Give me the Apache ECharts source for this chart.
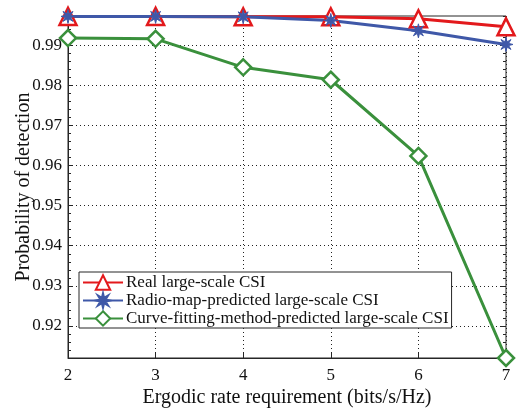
<!DOCTYPE html>
<html>
<head>
<meta charset="utf-8">
<script src="https://cdn.jsdelivr.net/npm/echarts@6/dist/echarts.min.js"></script>
<style>
  html, body { margin: 0; padding: 0; background: #fff; }
  #chart { width: 520px; height: 411px; }
</style>
</head>
<body>
<div id="chart"></div>
<script>
// rate requirement (bits/s/Hz)
const rates = [2, 3, 4, 5, 6, 7];
const realCSI = [0.9972, 0.9972, 0.9971, 0.9971, 0.9966, 0.9946];
const radioMapCSI = [0.9972, 0.9972, 0.9971, 0.9962, 0.9936, 0.9902];
const curveFitCSI = [0.9918, 0.9916, 0.9845, 0.9814, 0.9624, 0.9120];
const yMajorTicks = [0.92, 0.93, 0.94, 0.95, 0.96, 0.97, 0.98, 0.99];
const seriesNames = [
  'Real large-scale CSI',
  'Radio-map-predicted large-scale CSI',
  'Curve-fitting-method-predicted large-scale CSI'
];

const FONT = 'Liberation Serif';
const AXIS = '#262626';

// asterisk-ish star for the radio-map marker
function starPath() {
  const pts = [];
  for (let k = 0; k < 16; k++) {
    const a = k * Math.PI / 8;
    const r = k % 2 === 0 ? 10 : 4;
    pts.push((r * Math.cos(a)).toFixed(2) + ',' + (r * Math.sin(a)).toFixed(2));
  }
  return 'path://M' + pts.join('L') + 'Z';
}

const chart = echarts.init(document.getElementById('chart'));

const pairs = arr => rates.map((x, i) => [x, arr[i]]);

const yBase = { type: 'value', min: 0.912, max: 0.9973 };

const option = {
  animation: false,
  backgroundColor: '#fff',
  grid: {
    left: 68, right: 14, top: 16, bottom: 53,
    outerBoundsMode: 'none', containLabel: false,
    show: true, borderColor: AXIS, borderWidth: 1
  },
  legend: {
    orient: 'vertical',
    left: 79, top: 272,
    padding: [2, 3, 1, 3],
    itemGap: 1,
    itemWidth: 40, itemHeight: 18,
    backgroundColor: '#fff',
    borderColor: AXIS, borderWidth: 1,
    textStyle: { fontFamily: FONT, fontSize: 17, color: '#111', padding: [0, 0, 0, -2] },
    data: seriesNames
  },
  xAxis: [{
    type: 'value', min: 2, max: 7, interval: 1,
    name: 'Ergodic rate requirement (bits/s/Hz)',
    nameLocation: 'middle', nameGap: 30, nameMoveOverlap: false,
    nameTextStyle: { fontFamily: FONT, fontSize: 20, color: '#111' },
    axisLine: { show: true, lineStyle: { color: AXIS } },
    axisTick: { inside: true, length: 5, lineStyle: { color: AXIS } },
    axisLabel: { fontFamily: FONT, fontSize: 17, color: '#111', margin: 9 },
    splitLine: { show: true, lineStyle: { color: '#222', type: [1, 3], width: 1 } }
  }, {
    type: 'value', min: 2, max: 7, interval: 1, position: 'top',
    axisLine: { show: false },
    axisTick: { inside: true, length: 5, lineStyle: { color: AXIS } },
    axisLabel: { show: false }, splitLine: { show: false }
  }],
  yAxis: [Object.assign({}, yBase, {
    name: 'Probability of detection',
    nameLocation: 'middle', nameGap: 34, nameMoveOverlap: false,
    nameTextStyle: { fontFamily: FONT, fontSize: 20, color: '#111' },
    interval: 0.002,
    axisLine: { show: true, lineStyle: { color: AXIS } },
    axisTick: { inside: true, length: 5, customValues: yMajorTicks, lineStyle: { color: AXIS } },
    axisLabel: { fontFamily: FONT, fontSize: 17, color: '#111', margin: 6, customValues: yMajorTicks,
      formatter: v => v.toFixed(2) },
    splitLine: { show: true, lineStyle: { color: '#222', type: [1, 3], width: 1 } }
  }), Object.assign({}, yBase, {
    interval: 0.002, position: 'left',
    axisLine: { show: false },
    axisTick: { inside: true, length: 3, lineStyle: { color: AXIS } },
    axisLabel: { show: false }, splitLine: { show: false }
  }), Object.assign({}, yBase, {
    interval: 0.002, position: 'right',
    axisLine: { show: false },
    axisTick: { inside: true, length: 3, lineStyle: { color: AXIS } },
    axisLabel: { show: false }, splitLine: { show: false }
  }), Object.assign({}, yBase, {
    position: 'right',
    axisLine: { show: false },
    axisTick: { inside: true, length: 5, customValues: yMajorTicks, lineStyle: { color: AXIS } },
    axisLabel: { show: false }, splitLine: { show: false }
  })],
  series: [{
    name: seriesNames[0], type: 'line', data: pairs(realCSI),
    symbol: 'triangle', symbolSize: 17,
    lineStyle: { color: '#e3191c', width: 3 },
    itemStyle: { color: '#fff', borderColor: '#e3191c', borderWidth: 2.5 }
  }, {
    name: seriesNames[1], type: 'line', data: pairs(radioMapCSI),
    symbol: starPath(), symbolSize: 14,
    lineStyle: { color: '#3f58a8', width: 3 },
    itemStyle: { color: '#3f58a8', borderColor: '#3f58a8', borderWidth: 1 }
  }, {
    name: seriesNames[2], type: 'line', data: pairs(curveFitCSI),
    symbol: 'diamond', symbolSize: 16,
    lineStyle: { color: '#3a903c', width: 3 },
    itemStyle: { color: '#fff', borderColor: '#3a903c', borderWidth: 2.5 }
  }]
};

chart.setOption(option);
</script>
</body>
</html>
